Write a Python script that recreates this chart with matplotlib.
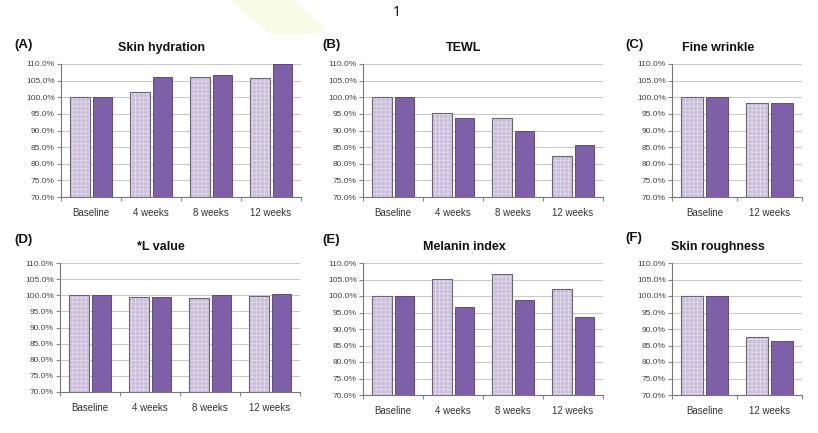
import numpy as np
import matplotlib
matplotlib.use("Agg")
import matplotlib.pyplot as plt
from matplotlib.patches import Polygon

plt.rcParams['font.family'] = ['Liberation Sans', 'DejaVu Sans']
plt.rcParams['hatch.linewidth'] = 0.6

# data (percent of baseline)
weeks4 = ["Baseline", "4 weeks", "8 weeks", "12 weeks"]
weeks2 = ["Baseline", "12 weeks"]

hydration_a = [100.0, 101.6, 106.2, 105.9]
hydration_b = [100.0, 106.1, 106.6, 110.0]
tewl_a = [100.0, 95.4, 93.9, 82.3]
tewl_b = [100.0, 93.8, 89.7, 85.6]
wrinkle_a = [100.0, 98.4]
wrinkle_b = [100.0, 98.3]
lvalue_a = [100.0, 99.5, 99.1, 99.8]
lvalue_b = [100.0, 99.5, 100.2, 100.5]
melanin_a = [100.0, 105.3, 106.6, 102.0]
melanin_b = [100.0, 96.8, 98.9, 93.7]
rough_a = [100.0, 87.6]
rough_b = [100.0, 86.4]

W, H = 818, 433
fig = plt.figure(figsize=(W / 100, H / 100), dpi=100)
fig.patch.set_facecolor("white")

# faint decoration at the top of the page
deco = Polygon([(230 / W, 1), (292 / W, 1), (325 / W, 1 - 28 / H),
                (315 / W, 1 - 34 / H), (270 / W, 1 - 34 / H)],
               closed=True, transform=fig.transFigure, facecolor="#f8fbe6",
               edgecolor="none", zorder=0)
fig.patches.append(deco)
fig.text(397 / W, 1 - 13 / H, "1", ha="center", va="center", fontsize=10,
         family="Open Sans", color="black")

light = "#c9bdd9"
light_dots = "#e3dcec"
light_edge = "#6a6572"
dark = "#7d60a8"
dark_edge = "#4e3d72"


def panel(x0, x1, ytop, ybot, cats, va, vb, title, tag, ty, lty):
    ax = fig.add_axes([x0 / W, 1 - ybot / H, (x1 - x0) / W, (ybot - ytop) / H])
    x = np.arange(len(cats))
    w = 0.33
    ax.bar(x - 0.19, va, w, color=light, hatch="++++",
           edgecolor=light_dots, linewidth=0, zorder=2)
    ax.bar(x - 0.19, va, w, fill=False, edgecolor=light_edge, linewidth=0.8, zorder=3)
    ax.bar(x + 0.19, vb, w, color=dark, edgecolor=dark_edge, linewidth=0.6, zorder=3)
    ax.set_ylim(70, 110)
    ax.set_xlim(-0.5, len(cats) - 0.5)
    ax.set_yticks(np.arange(70, 111, 5))
    ax.set_yticklabels(["%.1f%%" % v for v in np.arange(70, 111, 5)])
    ax.yaxis.grid(True, color="#c9c9c9", linewidth=0.8, zorder=0)
    ax.set_axisbelow(True)
    ax.set_xticks(np.arange(len(cats) + 1) - 0.5)
    ax.set_xticklabels([])
    ax.set_xticks(x, minor=True)
    ax.set_xticklabels(cats, minor=True)
    ax.tick_params(axis="x", which="major", length=3, color="#888888", direction="out")
    ax.tick_params(axis="x", which="minor", length=0, pad=8, labelsize=7,
                   labelcolor="#333333")
    ax.tick_params(axis="y", length=3, color="#888888", pad=1.5, labelsize=6,
                   labelcolor="#444444")
    for s in ["top", "right"]:
        ax.spines[s].set_visible(False)
    for s in ["left", "bottom"]:
        ax.spines[s].set_color("#777777")
        ax.spines[s].set_linewidth(0.8)
    cx = (x0 + x1) / 2 - 19
    fig.text(cx / W, 1 - ty / H, title, ha="center", va="center",
             fontsize=9, fontweight="bold", color="#111111")
    fig.text(tag[1] / W, 1 - lty / H, tag[0], ha="left", va="center",
             fontsize=9.5, fontweight="bold", color="#111111")
    return ax


panel(61, 301, 64, 197, weeks4, hydration_a, hydration_b, "Skin hydration", ("(A)", 14), 48, 45)
panel(363, 603, 64, 197, weeks4, tewl_a, tewl_b, "TEWL", ("(B)", 322), 48, 45)
panel(672, 802, 64, 197, weeks2, wrinkle_a, wrinkle_b, "Fine wrinkle", ("(C)", 625), 48, 45)
panel(60, 300, 263, 392, weeks4, lvalue_a, lvalue_b, "*L value", ("(D)", 14), 247, 240)
panel(363, 603, 263, 395, weeks4, melanin_a, melanin_b, "Melanin index", ("(E)", 322), 247, 240)
panel(672, 802, 263, 395, weeks2, rough_a, rough_b, "Skin roughness", ("(F)", 625), 247, 238)

fig.savefig("out.png", dpi=100)
